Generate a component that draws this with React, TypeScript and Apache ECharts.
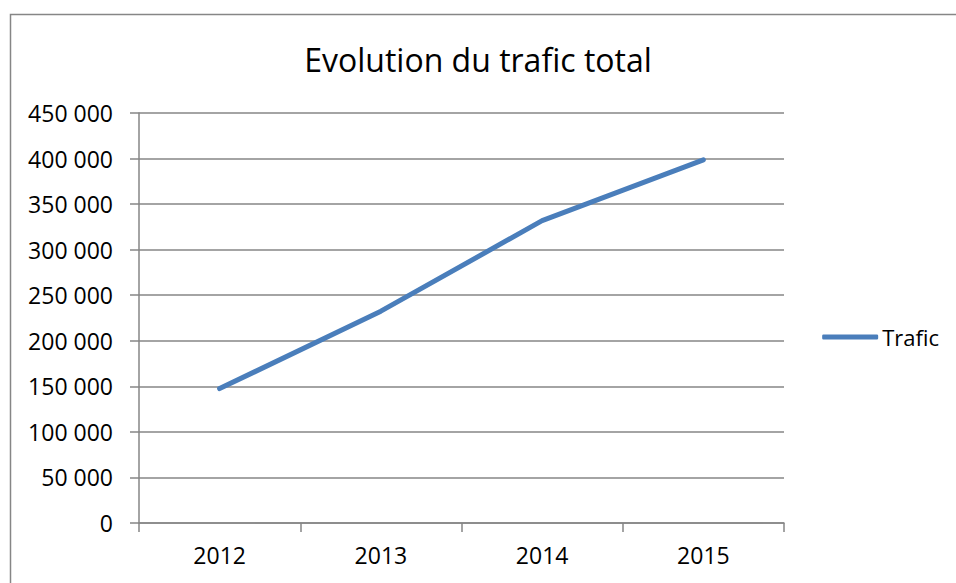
import React, { useEffect, useRef } from "react";
import * as echarts from "echarts";

const titleText = "Evolution du trafic total";
const seriesName = "Trafic";
const years = ["2012", "2013", "2014", "2015"];
const trafic = [147500, 232500, 331800, 398600];
const yMin = 0;
const yMax = 450000;
const yInterval = 50000;

const FONT = "'Open Sans', 'Noto Sans', sans-serif";
const GRID_COLOR = "#868686";
const LINE_COLOR = "#4A7EBB";

function fmt(v: number): string {
  return String(Math.round(v)).replace(/\B(?=(\d{3})+(?!\d))/g, " ");
}

export default function App() {
  const ref = useRef<HTMLDivElement>(null);
  useEffect(() => {
    if (!ref.current) return;
    const chart = echarts.init(ref.current, undefined, { renderer: "svg" });
    chart.setOption({
      animation: false,
      backgroundColor: "#ffffff",
      title: {
        text: titleText,
        left: "center",
        top: 38,
        textStyle: {
          fontFamily: FONT,
          fontSize: 32,
          fontWeight: "normal",
          color: "#000000",
        },
      },
      graphic: [
        {
          type: "rect",
          shape: { x: 10.5, y: 14.5, width: 1000, height: 1000 },
          style: { fill: "none", stroke: GRID_COLOR, lineWidth: 1.5 },
          silent: true,
        },
      ],
      legend: {
        right: 12,
        top: 321,
        orient: "vertical",
        icon: "roundRect",
        itemWidth: 56,
        itemHeight: 5,
        itemGap: 4,
        textStyle: { fontFamily: FONT, fontSize: 22, color: "#000000", padding: [0, 0, 0, -1] },
        data: [seriesName],
      },
      grid: {
        left: 139,
        right: 172,
        top: 113,
        bottom: 60,
        containLabel: false,
      },
      xAxis: {
        type: "category",
        data: years,
        boundaryGap: true,
        axisLine: { show: true, lineStyle: { color: GRID_COLOR, width: 1.5 } },
        axisTick: { show: true, length: 9, alignWithLabel: false, lineStyle: { color: GRID_COLOR, width: 1.5 } },
        axisLabel: { margin: 20, fontFamily: FONT, fontSize: 23, color: "#000000" },
        splitLine: { show: false },
      },
      yAxis: {
        type: "value",
        min: yMin,
        max: yMax,
        interval: yInterval,
        axisLine: { show: true, lineStyle: { color: GRID_COLOR, width: 1.5 } },
        axisTick: { show: true, length: 9, lineStyle: { color: GRID_COLOR, width: 1.5 } },
        axisLabel: {
          margin: 26,
          fontFamily: FONT,
          fontSize: 23,
          color: "#000000",
          formatter: (v: number) => fmt(v),
        },
        splitLine: { show: true, lineStyle: { color: GRID_COLOR, width: 1.5 } },
      },
      series: [
        {
          name: seriesName,
          type: "line",
          data: trafic,
          showSymbol: false,
          symbol: "none",
          itemStyle: { color: LINE_COLOR },
          lineStyle: { color: LINE_COLOR, width: 5, cap: "round", join: "round" },
        },
      ],
    });
    return () => chart.dispose();
  }, []);
  return (
    <div
      ref={ref}
      style={{ position: "fixed", left: 0, top: 0, width: 956, height: 583 }}
    />
  );
}
